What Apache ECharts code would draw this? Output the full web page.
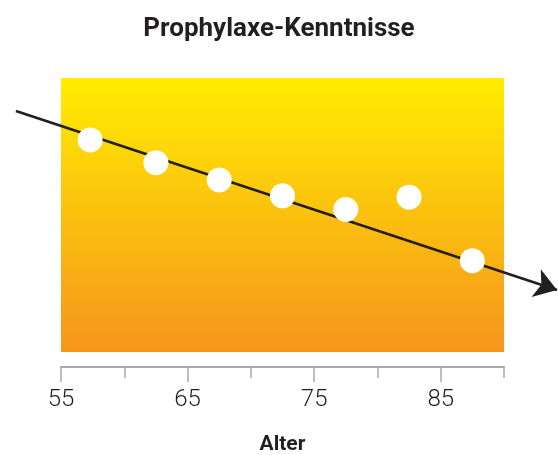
<!DOCTYPE html>
<html>
<head>
<meta charset="utf-8">
<script src="https://cdn.jsdelivr.net/npm/echarts@6/dist/echarts.min.js"></script>
<style>html,body{margin:0;padding:0;background:#fff;}#c{width:558px;height:455px;}</style>
</head>
<body>
<div id="c"></div>
<script>
const titleText = 'Prophylaxe-Kenntnisse';
const xName = 'Alter';
const ages = [57.3, 62.5, 67.5, 72.5, 77.5, 82.5, 87.5];
const knowledge = [77.4, 69.1, 62.8, 57.0, 52.0, 56.5, 33.3];
const xMin = 55, xMax = 90;
const labelTicks = [55, 65, 75, 85];
const trendStart = [51.44, 87.96];
const trendEnd = [94.19, 22.63];

const chart = echarts.init(document.getElementById('c'), null, {renderer: 'canvas'});
const font = '"Roboto", sans-serif';
const option = {
  animation: false,
  title: {
    text: titleText, left: 'center', top: 11,
    textStyle: {fontFamily: font, fontWeight: 'bold', fontSize: 26, color: '#231f20'}
  },
  grid: [{
    left: 61, right: 54, top: 78, bottom: 103, show: true, borderWidth: 0,
    outerBoundsMode: 'none', containLabel: false,
    backgroundColor: new echarts.graphic.LinearGradient(0, 0, 0, 1, [
      {offset: 0, color: '#FFED00'}, {offset: 1, color: '#F7941D'}
    ])
  }, {
    left: 61, right: 54, top: 366, height: 1, show: false,
    outerBoundsMode: 'none', containLabel: false
  }],
  xAxis: [{
    gridIndex: 0, type: 'value', min: xMin, max: xMax, show: false
  }, {
    gridIndex: 1, type: 'value', min: xMin, max: xMax, interval: 5, position: 'bottom',
    axisLine: {show: true, lineStyle: {color: '#a7a9ac', width: 2}},
    axisTick: {show: true, length: 11, lineStyle: {color: '#a7a9ac', width: 1.5}},
    axisLabel: {show: false}, splitLine: {show: false},
    name: xName, nameLocation: 'middle', nameGap: 67,
    nameTextStyle: {fontFamily: font, fontWeight: 'bold', fontSize: 21, color: '#231f20'}
  }, {
    gridIndex: 1, type: 'value', min: xMin, max: xMax, interval: 5, position: 'bottom',
    axisLine: {show: false},
    axisTick: {show: true, length: 15, customValues: labelTicks, lineStyle: {color: '#a7a9ac', width: 1.5}},
    axisLabel: {show: true, customValues: labelTicks, margin: 21, fontFamily: font, fontWeight: 300, fontSize: 24, color: '#231f20'},
    splitLine: {show: false}
  }],
  yAxis: [
    {gridIndex: 0, type: 'value', min: 0, max: 100, show: false},
    {gridIndex: 1, type: 'value', min: 0, max: 1, show: false}
  ],
  series: [{
    type: 'lines', coordinateSystem: 'cartesian2d', xAxisIndex: 0, yAxisIndex: 0, clip: false, z: 2,
    symbol: ['none', 'arrow'], symbolSize: 22,
    lineStyle: {color: '#231f20', width: 2.8, opacity: 1},
    data: [{coords: [trendStart, trendEnd]}]
  }, {
    type: 'scatter', xAxisIndex: 0, yAxisIndex: 0, symbol: 'circle', symbolSize: 25, z: 3,
    itemStyle: {color: '#ffffff', opacity: 1},
    data: ages.map((a, i) => [a, knowledge[i]])
  }]
};
chart.setOption(option);
</script>
</body>
</html>
